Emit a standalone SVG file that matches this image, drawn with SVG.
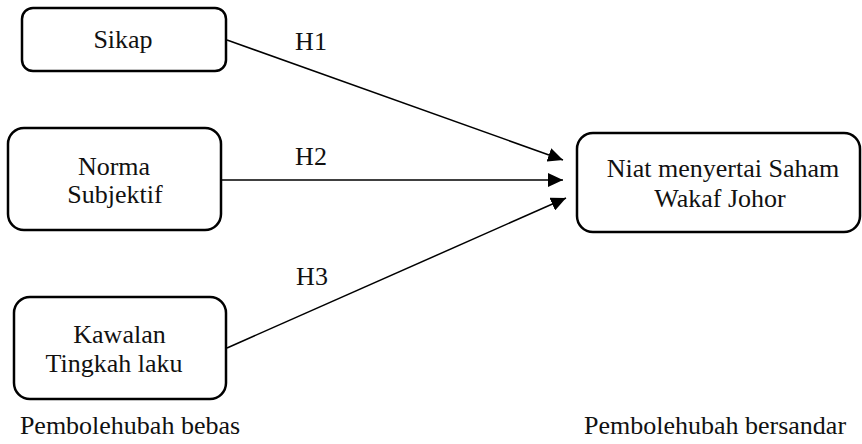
<svg xmlns="http://www.w3.org/2000/svg" width="862" height="444" viewBox="0 0 862 444">
<style>
.box{fill:#fff;stroke:#000;stroke-width:2.5}
text{font-family:"Liberation Serif","Times New Roman",serif;font-size:26px;fill:#111;text-anchor:middle}
.c{stroke:#000;stroke-width:1.5;fill:none;marker-end:url(#ah)}
</style>
<defs>
<marker id="ah" markerUnits="userSpaceOnUse" markerWidth="16" markerHeight="14" refX="15" refY="7" orient="auto">
<path d="M0,0 L15,7 L0,14 Z" fill="#000"/>
</marker>
</defs>
<rect width="862" height="444" fill="#fff"/>
<g id="connectors">
<line class="c" x1="227" y1="40" x2="563" y2="160"/>
<line class="c" x1="221" y1="180" x2="563" y2="180"/>
<line class="c" x1="227" y1="348" x2="566" y2="198"/>
<text x="311" y="50">H1</text>
<text x="311" y="165">H2</text>
<text x="312" y="285">H3</text>
</g>
<g id="sikap">
<rect class="box" x="22" y="8" width="204" height="63" rx="11"/>
<text x="123" y="48">Sikap</text>
</g>
<g id="norma">
<rect class="box" x="8" y="128" width="213" height="102" rx="16"/>
<text x="114" y="175">Norma</text>
<text x="115" y="203">Subjektif</text>
</g>
<g id="kawalan">
<rect class="box" x="14" y="297" width="212" height="102" rx="16"/>
<text x="119.5" y="343">Kawalan</text>
<text x="114" y="372">Tingkah laku</text>
</g>
<g id="niat">
<rect class="box" x="577" y="133" width="283" height="99" rx="16"/>
<text x="723" y="177">Niat menyertai Saham</text>
<text x="720" y="207">Wakaf Johor</text>
</g>
<g id="labels">
<text x="130" y="434">Pembolehubah bebas</text>
<text x="715" y="434">Pembolehubah bersandar</text>
</g>
</svg>
